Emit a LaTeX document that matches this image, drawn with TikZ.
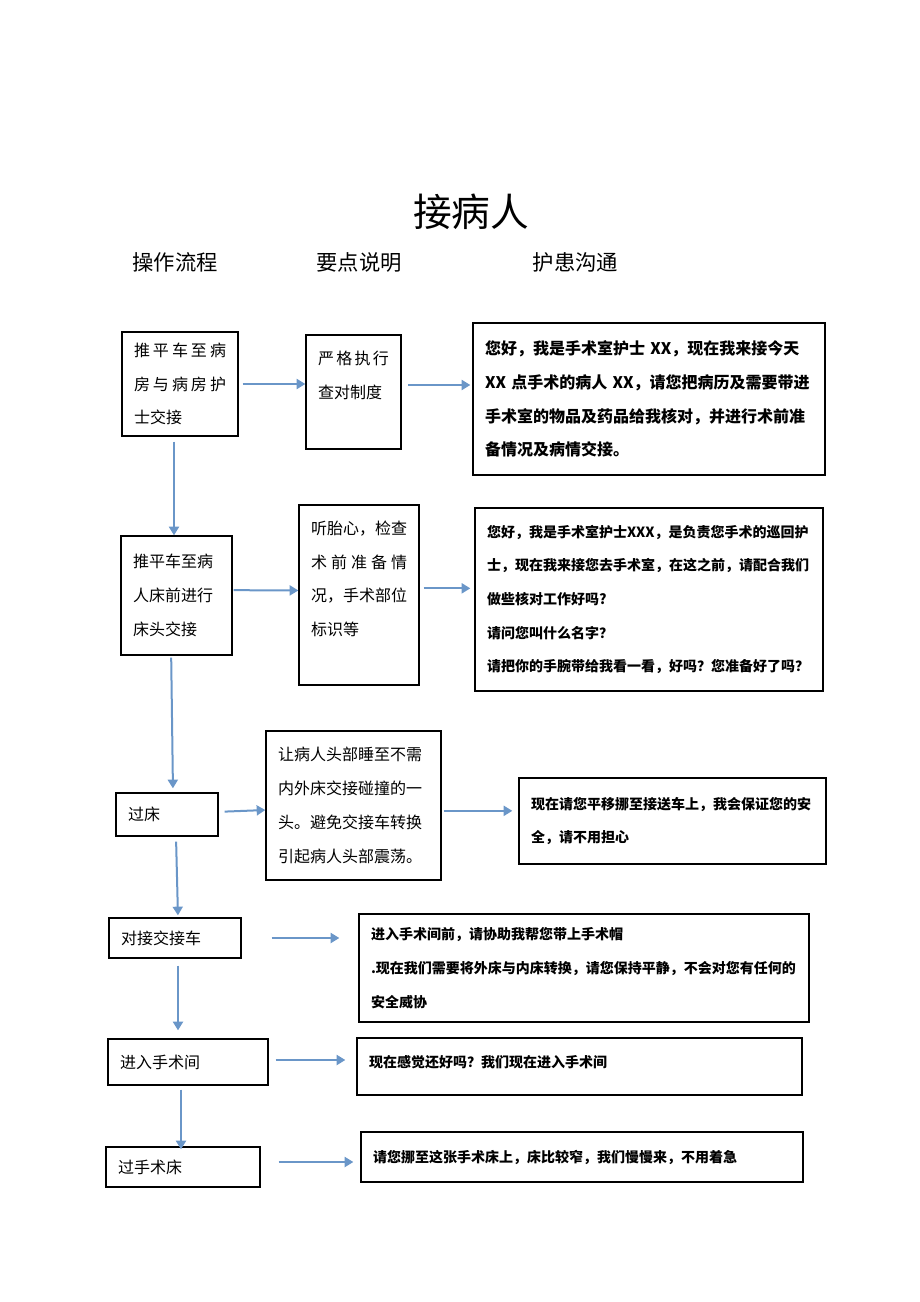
\documentclass[tikz,border=0pt]{standalone}
\usepackage{fontspec}
\newfontfamily\cjk{Noto Sans CJK SC}
\usetikzlibrary{arrows.meta,positioning}
\definecolor{flowblue}{RGB}{106,150,200}
\newcommand{\wide}[1]{\makebox[\hsize][s]{#1}}
\tikzset{
  box/.style={draw, line width=1pt, rectangle, align=left, inner xsep=9pt, inner ysep=0pt},
  stepfont/.style={font=\cjk\fontsize{12}{25.3}\selectfont},
  talkfont/.style={font=\cjk\bfseries\fontsize{10.5}{25.3}\selectfont},
  flow/.style={flowblue, line width=1.5pt, -{Triangle[length=6.5pt,width=7.5pt]}}
}
\begin{document}
\begin{tikzpicture}[x=0.75pt, y=-0.75pt]
\useasboundingbox (0,0) rectangle (920,1302);
% title and column heads
\node[font=\cjk\fontsize{29}{29}\selectfont] (title) at (471,212) {接病人};
\foreach \name/\x/\txt in {flowhead/175/操作流程, pointhead/359/要点说明, talkhead/575.5/护患沟通}
{
\node[font=\cjk\fontsize{16}{16}\selectfont] (\name) at (\x,262) {\txt};
}
% row 1
\node[box, stepfont, text width=69pt, minimum height=78pt] (a1) at (180,384)
  {\wide{推\hfil 平\hfil 车\hfil 至\hfil 病}\\\wide{房\hfil 与\hfil 病\hfil 房\hfil 护}\\士交接};
\node[box, stepfont, text width=53.25pt, minimum height=85.5pt] (b1) at (353.5,392)
  {\wide{严\hfil 格\hfil 执\hfil 行}\\查对制度\\ \mbox{}};
\node[box, stepfont, font=\cjk\bfseries\fontsize{12}{25.3}\selectfont, text width=246pt, minimum height=114pt] (c1) at (649,399)
  {您好，我是手术室护士 XX，现在我来接今天\\XX 点手术的病人 XX，请您把病历及需要带进\\手术室的物品及药品给我核对，并进行术前准\\备情况及病情交接。};
% row 2
\node[box, stepfont, text width=65.25pt, minimum height=89.25pt] (a2) at (176.5,595.5)
  {推平车至病\\人床前进行\\床头交接};
\node[box, stepfont, text width=72pt, minimum height=135pt] (b2) at (359,595)
  {听胎心，检查\\\wide{术\hfil 前\hfil 准\hfil 备\hfil 情}\\况，手术部位\\标识等\\ \mbox{}};
\node[box, talkfont, text width=243pt, minimum height=137.25pt] (c2) at (649,599.5)
  {您好，我是手术室护士XXX，是负责您手术的巡回护\\士，现在我来接您去手术室，在这之前，请配合我们\\做些核对工作好吗?\\请问您叫什么名字？\\请把你的手腕带给我看一看，好吗？您准备好了吗？};
% row 3
\node[box, stepfont, text width=58.5pt, minimum height=32.25pt] (a3) at (167,814.5) {过床};
\node[box, stepfont, text width=113.25pt, minimum height=111.75pt] (b3) at (353.5,805.5)
  {让病人头部睡至不需\\内外床交接碰撞的一\\头。避免交接车转换\\引起病人头部震荡。};
\node[box, talkfont, text width=212.25pt, minimum height=64.5pt] (c3) at (672.5,821)
  {现在请您平移挪至接送车上，我会保证您的安\\全，请不用担心};
% rows 4 to 6
\node[box, stepfont, text width=81pt, minimum height=30pt] (a4) at (175,938) {对接交接车};
\node[box, talkfont, text width=319.5pt, minimum height=81pt] (c4) at (584,968)
  {进入手术间前，请协助我帮您带上手术帽\\.现在我们需要将外床与内床转换，请您保持平静，不会对您有任何的\\安全威协};
\node[box, stepfont, text width=102pt, minimum height=34.5pt] (a5) at (188,1062) {进入手术间};
\node[box, talkfont, text width=315.75pt, minimum height=42.75pt] (c5) at (579.5,1066.5)
  {现在感觉还好吗？我们现在进入手术间\\[-17pt]\mbox{}};
\node[box, stepfont, text width=97.5pt, minimum height=30pt] (a6) at (183,1167) {过手术床};
\node[box, talkfont, text width=313.5pt, minimum height=37.5pt] (c6) at (582,1157)
  {请您挪至这张手术床上，床比较窄，我们慢慢来，不用着急};
% arrows across
\draw[flow, shorten <=3pt] (a1.east) -- (a1.east -| b1.west);
\draw[flow, shorten <=5pt, shorten >=1.5pt] ([yshift=5.25pt]b1.east) -- ([yshift=5.25pt]b1.east -| c1.west);
\draw[flow, shorten <=0.75pt] ([yshift=4pt]a2.east) -- ([yshift=3.4pt]b2.west);
\draw[flow, shorten <=3pt, shorten >=3pt] ([yshift=5pt]b2.east) -- ([yshift=5pt]b2.east -| c2.west);
\draw[flow, shorten <=4.5pt] ([yshift=2pt]a3.east) -- ([yshift=-3.4pt]b3.west);
\draw[flow, shorten <=1.5pt, shorten >=4.5pt] ([yshift=-4pt]b3.east) -- ([yshift=-4pt]b3.east -| c3.west);
\draw[flow, shorten <=22.5pt, shorten >=14.25pt] (a4.east) -- (a4.east -| c4.west);
\draw[flow, shorten <=5.25pt, shorten >=8.25pt] ([yshift=1.5pt]a5.east) -- ([yshift=1.5pt]a5.east -| c5.west);
\draw[flow, shorten <=13.5pt, shorten >=5.25pt] ([yshift=3.75pt]a6.east) -- ([yshift=3.75pt]a6.east -| c6.west);
% arrows down
\draw[flow, shorten <=3.75pt] ([xshift=-4.5pt]a1.south) -- ([xshift=-4.5pt]a1.south |- a2.north);
\draw[flow, shorten <=1.5pt, shorten >=3pt] ([xshift=-4pt]a2.south) -- ([xshift=4.5pt]a3.north);
\draw[flow, shorten <=3.75pt, shorten >=1.5pt] ([xshift=6.75pt]a3.south) -- ([xshift=2.25pt]a4.north);
\draw[flow, shorten <=5.25pt, shorten >=6pt] ([xshift=2.25pt]a4.south) -- ([xshift=2.25pt]a4.south |- a5.north);
\draw[flow, shorten <=3pt, shorten >=-2.25pt] ([xshift=-5.25pt]a5.south) -- ([xshift=-5.25pt]a5.south |- a6.north);
\end{tikzpicture}
\end{document}
